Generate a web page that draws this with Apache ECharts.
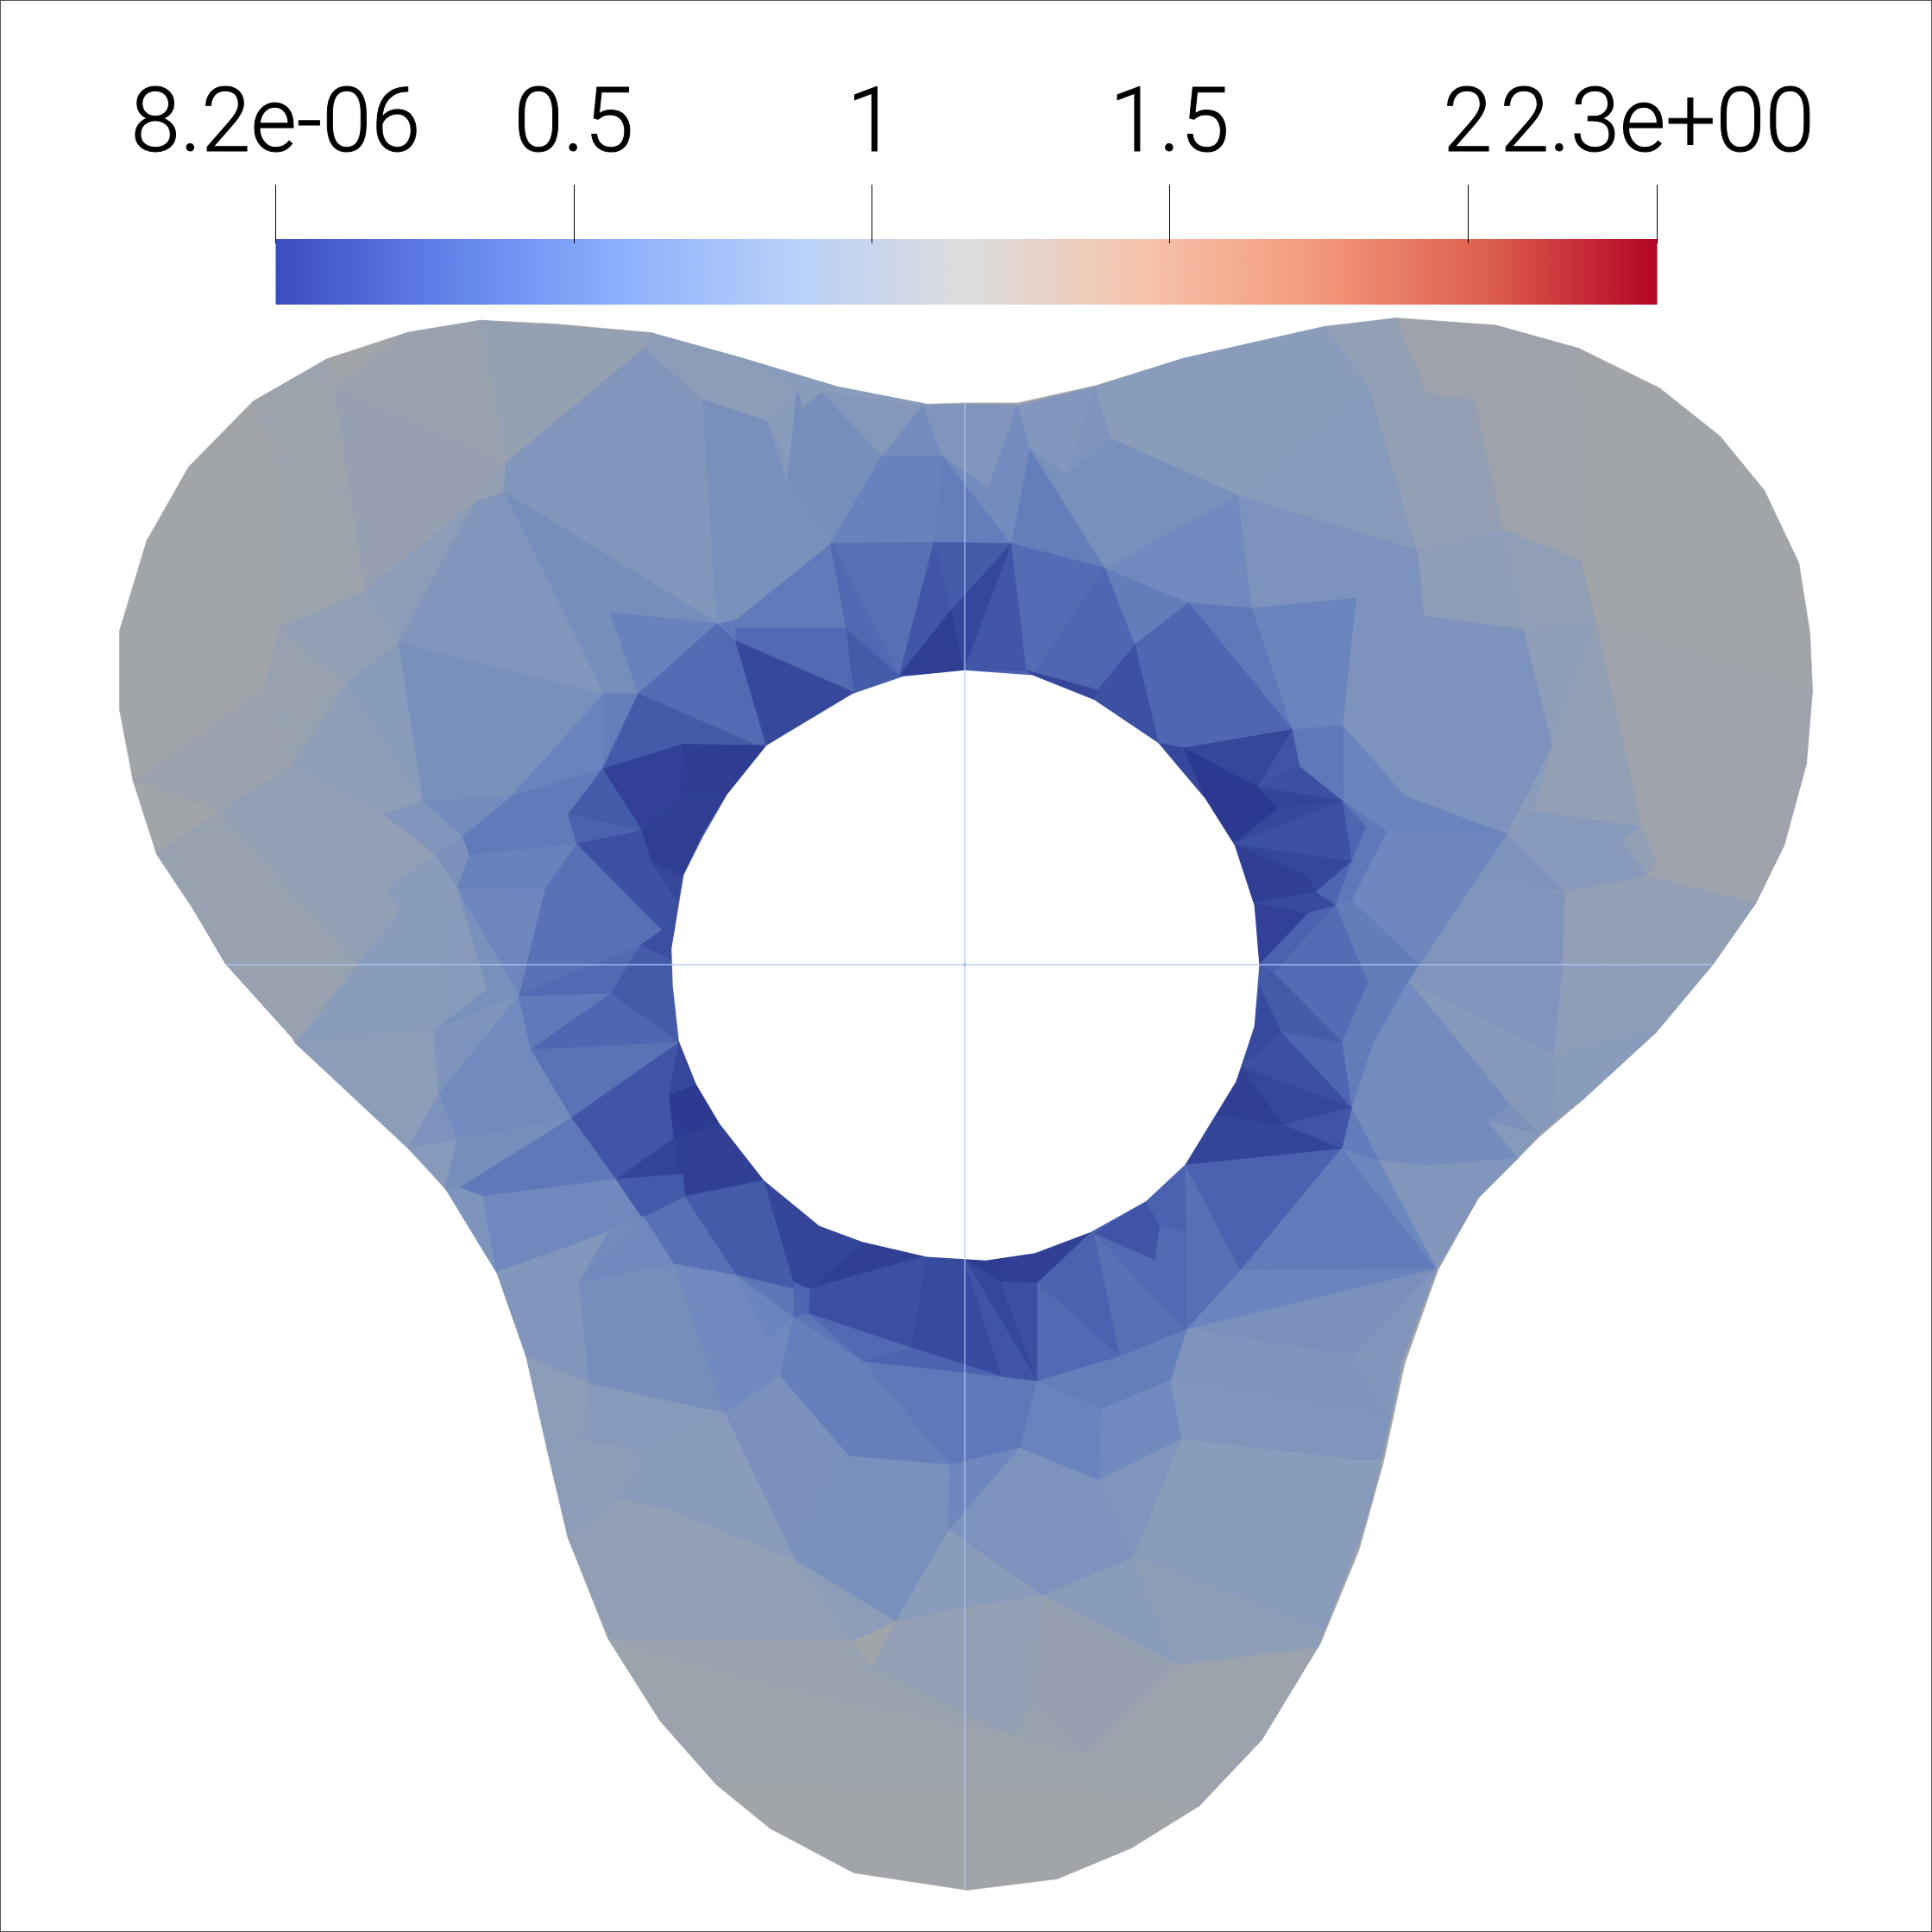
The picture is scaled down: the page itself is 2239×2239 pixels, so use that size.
<!DOCTYPE html>
<html>
<head>
<meta charset="utf-8">
<title>mesh</title>
<script src="https://cdn.jsdelivr.net/npm/echarts@6/dist/echarts.min.js"></script>
<style>
html, body { margin: 0; padding: 0; background: #fff; }
#main { width: 2239px; height: 2239px; }
</style>
</head>
<body>
<div id="main"></div>
<script>
// scale bar
const barMin = 0.0000082
const barMax = 2.318
const tickValues = [0.0000082, 0.5, 1, 1.5, 2, 2.318]
const tickLabels = ["8.2e-06", "0.5", "1", "1.5", "2", "2.3e+00"]
// cool to warm map, one colour every 1/8 of the range
const mapColors = [[59, 76, 192], [98, 130, 234], [141, 176, 254], [184, 208, 249], [221, 221, 221], [245, 196, 173], [244, 154, 123], [222, 96, 77], [180, 4, 38]]
const meshShade = 0.75

// mesh coordinates, y pointing down
const meshOutline = [752,328, 783,327, 826,327, 889,313, 960,291, 1075,265, 1137,259, 1214,264, 1282,283, 1347,315, 1396,354, 1432,398, 1460,457, 1469,514, 1471,560, 1466,620, 1448,686, 1425,733, 1390,783, 1344,838, 1284,893, 1250,922, 1200,972, 1167,1031, 1140,1107, 1123,1186, 1103,1258, 1072,1333, 1024,1412, 973,1466, 918,1500, 858,1525, 785,1534, 693,1520, 625,1484, 582,1449, 536,1397, 493,1329, 461,1248, 444,1176, 428,1103, 403,1032, 364,968, 332,932, 237,842, 183,782, 157,738, 127,693, 108,634, 97,576, 97,512, 119,439, 153,379, 205,326, 266,291, 330,270, 390,260, 452,263, 528,270, 600,290, 680,314]
const holeOutline = [783,544, 838,548, 888,568, 940,603, 978,648, 1002,686, 1018,735, 1022,783, 1018,833, 1003,878, 962,945, 930,975, 885,1000, 840,1017, 800,1023, 752,1020, 700,1008, 665,995, 620,958, 584,912, 565,880, 551,845, 546,800, 545,770, 555,710, 570,680, 590,645, 622,605, 692,563, 733,549]
const innerZone = [600,500, 783,440, 965,489, 1090,640, 1100,790, 1090,930, 963,1079, 842,1121, 700,1105, 522,988, 431,852, 421,808, 468,685, 518,563]
const axisH = [[183, 783], [1390, 783]]
const axisV = [[783, 327], [783, 1534]]

// each cell: value, then its corners. later cells lie over earlier ones
const meshCells = [
  [1.11, meshOutline],
  [1.07, [493,1329, 536,1397, 582,1449, 700,1450, 850,1450, 973,1466, 1024,1412, 1072,1333, 956,1351, 883,1423, 822,1408, 708,1353, 621,1364, 495,1330]],
  [0.3, innerZone],
  // upper left lobe
  [1.04, [330,270, 271,314, 296,480, 386,407, 411,375, 390,260]],
  [1.0, [271,314, 296,480, 386,407, 411,375]],
  [0.98, [390,260, 528,270, 523,282, 411,375]],
  [1.07, [228,383, 226,510, 296,480, 271,314, 266,291, 205,326]],
  [0.95, [226,510, 296,480, 323,521, 281,555]],
  [1.02, [226,510, 281,555, 237,621, 215,557]],
  [0.89, [296,480, 386,407, 323,521]],
  [0.8, [409,399, 386,407, 323,521, 490,563]],
  [0.95, [386,407, 411,375, 409,399]],
  [0.8, [411,375, 523,282, 570,324, 585,507, 409,399]],
  [0.7, [409,399, 585,507, 495,497, 518,563, 490,563]],
  [0.56, [495,497, 582,506, 518,563]],
  [0.72, [323,521, 490,563, 415,646, 343,650]],
  [0.86, [281,555, 323,521, 343,650, 237,621]],
  [0.91, [281,555, 343,650, 311,661, 237,621]],
  [1.06, [179,658, 237,621, 215,557, 108,634]],
  [0.95, [157,738, 179,658, 237,621, 311,661, 353,693, 314,721, 325,740, 290,783, 240,847, 237,842, 183,782]],
  [1.02, [127,693, 157,738, 183,782, 237,842, 240,847, 290,783, 179,658]],
  [0.53, [490,563, 518,563, 489,624]],
  [0.57, [490,563, 489,624, 415,646]],
  [0.5, [415,646, 489,624, 461,661, 468,685, 381,694, 375,679]],
  [0.66, [343,650, 415,646, 375,679]],
  [0.8, [311,661, 343,650, 375,679, 353,693]],
  [0.74, [353,693, 375,679, 381,694, 371,721]],
  [0.56, [381,694, 468,685, 442,722, 371,721]],
  [0.87, [353,693, 371,721, 314,721]],
  // left of the hole
  [0.38, [518,563, 582,506, 615,605]],
  [0.36, [582,506, 597,520, 615,605]],
  [0.36, [597,520, 622,605, 615,605]],
  [0.24, [518,563, 615,605, 554,604, 489,624]],
  [0.5, [582,506, 597,503, 687,510, 597,520]],
  [0.36, [597,510, 693,562, 597,520]],
  [0.11, [597,520, 693,562, 622,605]],
  [0.5, [597,503, 674,441, 687,510]],
  [0.36, [597,510, 687,510, 693,562]],
  [0.24, [687,510, 730,548, 693,562]],
  [0.06, [489,624, 554,604, 553,646, 521,674]],
  [0.02, [554,604, 622,605, 590,645, 553,646]],
  [0.04, [553,646, 590,645, 571,675, 521,674]],
  [0.24, [489,624, 521,674, 461,661]],
  [0.29, [461,661, 521,674, 468,685]],
  [0.16, [468,685, 521,674, 529,700]],
  [0.03, [521,674, 571,675, 554,711, 529,700]],
  [0.17, [468,685, 529,700, 550,733, 537,755]],
  [0.1, [529,700, 554,711, 550,733]],
  [0.41, [468,685, 537,755, 520,767, 442,722]],
  [0.15, [537,755, 550,733, 546,780, 520,767]],
  [0.43, [442,722, 520,767, 421,808]],
  [0.61, [371,721, 442,722, 421,808]],
  [0.72, [371,721, 421,808, 395,803]],
  [0.72, [352,836, 395,803, 421,808]],
  [0.84, [314,721, 371,721, 395,803, 352,836, 360,783]],
  [0.87, [290,783, 325,740, 314,721, 371,721, 360,783]],
  [0.87, [240,847, 290,783, 360,783, 352,836]],
  [0.89, [240,847, 352,836, 356,888, 331,932]],
  [0.77, [352,836, 421,808, 356,888]],
  [0.65, [421,808, 431,852, 356,888]],
  [0.49, [421,808, 496,806, 431,852]],
  [0.34, [496,806, 551,846, 431,852]],
  [0.36, [421,808, 520,767, 496,806]],
  [0.24, [520,767, 546,780, 551,846, 496,806]],
  [0.65, [356,888, 431,852, 464,907, 371,925]],
  [0.44, [431,852, 551,846, 464,907]],
  [0.75, [331,932, 356,888, 371,925]],
  [0.84, [331,932, 371,925, 361,964]],
  [0.7, [371,925, 464,907, 373,964, 361,964]],
  [0.48, [373,964, 464,907, 500,957, 392,971]],
  [0.77, [361,964, 373,964, 392,971, 403,1033]],
  [0.63, [392,971, 500,957, 493,1000, 403,1033]],
  [0.63, [500,957, 521,988, 493,1000]],
  [0.2, [464,907, 551,846, 543,889, 547,924, 500,957]],
  [0.1, [551,846, 565,880, 543,889]],
  [0.01, [543,889, 565,880, 584,912, 547,924]],
  [0.07, [500,957, 547,924, 554,953]],
  [0.05, [547,924, 584,912, 620,958, 554,971]],
  [0.23, [500,957, 554,953, 556,971, 521,988]],
  // below the hole
  [0.41, [522,988, 556,971, 598,1035]],
  [0.41, [522,988, 598,1035, 547,1026]],
  [0.24, [556,971, 620,958, 644,1040, 598,1035]],
  [0.24, [598,1035, 644,1040, 644,1046]],
  [0.09, [620,958, 665,995, 700,1008, 657,1046, 644,1040]],
  [0.04, [700,1008, 752,1019, 657,1046]],
  [0.16, [657,1046, 752,1019, 740,1094, 656,1066]],
  [0.36, [656,1066, 740,1094, 700,1105]],
  [0.34, [644,1046, 657,1046, 656,1066, 644,1069]],
  [0.46, [598,1035, 644,1046, 644,1069]],
  [0.46, [644,1069, 656,1066, 700,1105]],
  [0.12, [752,1019, 782,1021, 813,1117, 740,1094]],
  [0.3, [740,1094, 813,1117, 842,1121, 700,1105]],
  [0.1, [782,1021, 812,1040, 842,1121]],
  [0.16, [812,1040, 842,1041, 842,1121]],
  [0.19, [782,1021, 842,1121, 813,1117]],
  [0.02, [782,1021, 820,1019, 812,1040]],
  [0.05, [820,1019, 840,1017, 885,1000, 842,1041, 812,1040]],
  [0.8, [403,1032, 493,1001, 470,1041, 427,1101]],
  [0.8, [427,1101, 470,1041, 478,1123]],
  [0.65, [493,1001, 522,987, 470,1041]],
  [0.63, [470,1041, 522,987, 547,1026]],
  [0.7, [470,1041, 547,1026, 588,1147, 478,1123]],
  [0.64, [547,1026, 598,1035, 624,1087, 644,1069, 633,1117, 588,1147]],
  [0.58, [598,1035, 644,1069, 624,1087]],
  [0.54, [644,1069, 700,1105, 771,1189, 689,1182, 633,1117]],
  [0.48, [700,1105, 842,1121, 828,1175, 771,1189]],
  [0.73, [633,1117, 689,1182, 645,1266, 588,1147]],
  [0.72, [689,1182, 771,1189, 770,1242, 727,1316, 645,1266]],
  [0.62, [771,1189, 828,1175, 770,1242]],
  [0.75, [770,1242, 828,1175, 892,1201, 920,1264, 846,1295]],
  [0.87, [727,1316, 770,1242, 846,1295, 783,1305]],
  [0.95, [708,1353, 727,1316, 846,1295, 837,1380, 822,1408]],
  [0.89, [645,1266, 727,1316, 691,1332]],
  [0.95, [588,1147, 645,1266, 691,1332, 495,1330, 503,1217, 542,1225]],
  [0.87, [588,1147, 503,1217, 542,1225, 645,1266]],
  [0.87, [523,1178, 588,1147, 503,1217]],
  [0.84, [478,1123, 588,1147, 523,1178, 472,1169]],
  [0.89, [427,1101, 478,1123, 472,1169, 523,1178, 503,1217, 461,1248, 444,1176]],
  [0.93, [461,1248, 503,1217, 495,1330]],
  [1.02, [495,1330, 691,1332, 708,1353, 822,1408, 621,1364]],
  [1.02, [837,1380, 883,1423, 822,1408]],
  // lower right
  [0.29, [842,1041, 888,1001, 909,1101]],
  [0.41, [888,1001, 963,1079, 909,1101]],
  [0.36, [842,1041, 909,1101, 842,1121]],
  [0.36, [888,1001, 937,1022, 941,994, 962,980, 963,1079]],
  [0.19, [888,1001, 930,975, 941,994, 937,1022]],
  [0.29, [930,975, 962,945, 962,1000, 941,994]],
  [0.4, [962,945, 1007,1031, 963,1079]],
  [0.29, [962,945, 1089,932, 1007,1031]],
  [0.51, [1007,1031, 1089,932, 1166,1030]],
  [0.58, [963,1079, 1007,1031, 1166,1030]],
  [0.73, [963,1079, 1166,1030, 1098,1100]],
  [0.8, [1098,1100, 1166,1030, 1138,1105]],
  [0.77, [963,1079, 950,1120, 1129,1150, 1098,1100]],
  [0.53, [842,1121, 909,1101, 963,1079, 950,1120, 894,1144]],
  [0.57, [842,1121, 894,1144, 892,1201, 828,1175]],
  [0.64, [894,1144, 950,1120, 959,1168, 892,1201]],
  [0.78, [950,1120, 1129,1150, 1121,1185, 1100,1185, 959,1168]],
  [0.81, [1098,1100, 1138,1105, 1129,1150]],
  [0.79, [892,1201, 959,1168, 920,1264]],
  [0.87, [959,1168, 1100,1185, 1121,1185, 1114,1216, 1102,1255, 1074,1325, 920,1264]],
  [0.87, [846,1295, 920,1264, 956,1351]],
  [0.92, [920,1264, 1074,1325, 1070,1337, 956,1351]],
  [1.0, [846,1295, 956,1351, 883,1423, 837,1380]],
  // above the hole
  [0.89, [528,270, 600,290, 647,315, 623,342, 570,324, 523,282]],
  [0.87, [600,290, 680,314, 752,328, 749,329, 667,318, 647,315]],
  [0.87, [647,315, 667,318, 651,332]],
  [0.72, [570,324, 623,342, 674,441, 597,503, 582,506]],
  [0.87, [623,342, 647,315, 651,332, 639,390]],
  [0.82, [623,342, 639,390, 674,441]],
  [0.7, [651,332, 667,318, 716,370, 674,441, 639,390, 647,315]],
  [0.82, [667,318, 749,329, 716,370]],
  [0.67, [716,370, 749,329, 765,370]],
  [0.79, [749,329, 783,328, 826,329, 802,396, 765,370]],
  [0.66, [826,329, 836,364, 821,441, 802,396]],
  [0.56, [674,441, 716,370, 765,370, 758,440]],
  [0.53, [758,440, 765,370, 821,441]],
  [0.53, [836,364, 821,441, 897,461]],
  [0.66, [802,396, 765,370, 821,441]],
  [0.4, [674,441, 758,440, 730,548, 687,510]],
  [0.35, [674,441, 687,510, 730,548]],
  [0.24, [758,440, 821,441, 772,495]],
  [0.21, [758,440, 772,495, 730,548]],
  [0.1, [772,495, 821,441, 782,545]],
  [0.21, [821,441, 833,544, 782,545]],
  [0.03, [772,495, 782,545, 730,548]],
  [0.38, [821,441, 897,461, 833,544]],
  [0.38, [833,544, 897,461, 838,548]],
  [0.34, [897,461, 921,523, 891,560, 838,548]],
  [0.1, [833,544, 838,548, 888,568, 891,560]],
  [0.52, [897,461, 965,489, 921,523]],
  [0.34, [921,523, 965,489, 1049,593, 961,607, 941,603]],
  [0.17, [921,523, 891,560, 888,568, 940,603]],
  [0.1, [940,603, 961,607, 978,648]],
  [0.48, [965,489, 1016,493, 1049,592]],
  [0.58, [1016,493, 1101,485, 1090,589, 1049,592]],
  // upper right lobe
  [0.87, [888,314, 960,291, 1075,265, 1110,311, 1005,402, 902,356]],
  [0.81, [826,329, 888,314, 866,385, 836,364]],
  [0.77, [888,314, 902,356, 866,385]],
  [0.72, [836,364, 866,385, 902,356, 1005,402, 897,461]],
  [0.64, [897,461, 1005,402, 1016,493, 965,489]],
  [0.75, [1005,402, 1150,446, 1101,485, 1016,493]],
  [0.85, [1005,402, 1110,311, 1150,446]],
  [0.95, [1075,265, 1133,258, 1158,319, 1150,446, 1110,311]],
  [0.96, [1110,311, 1158,319, 1150,446]],
  [0.97, [1158,319, 1197,324, 1220,430, 1150,446]],
  [1.08, [1133,258, 1214,264, 1282,283, 1283,455, 1220,430, 1197,324, 1158,319]],
  [1.09, [1295,505, 1471,560, 1466,620, 1448,686, 1425,733, 1337,711, 1324,633]],
  [0.93, [1220,430, 1283,455, 1295,505, 1236,511]],
  [0.91, [1150,446, 1220,430, 1236,511, 1156,500]],
  [0.91, [1236,511, 1295,505, 1260,605]],
  [0.96, [1295,505, 1324,633, 1332,671, 1244,658, 1260,605]],
  [0.75, [1101,485, 1150,446, 1156,500, 1236,511, 1260,605, 1223,677, 1140,646, 1090,589]],
  [0.58, [1090,589, 1140,646, 1223,677, 1125,675, 1090,650]],
  [0.87, [1260,605, 1244,658, 1223,677]],
  [0.85, [1244,658, 1332,671, 1317,682, 1337,711, 1270,724, 1223,677]],
  [0.95, [1337,711, 1317,682, 1332,671, 1345,700]],
  // right of the hole
  [0.96, [1270,725, 1337,711, 1425,733, 1390,783, 1268,782]],
  [0.91, [1268,782, 1390,783, 1344,838, 1335,836, 1261,855]],
  [0.87, [1261,855, 1335,836, 1344,838, 1284,893, 1265,907]],
  [0.79, [1198,714, 1270,725, 1268,782, 1261,855, 1143,796, 1152,783]],
  [0.77, [1223,677, 1270,724, 1198,714]],
  [0.83, [1143,796, 1261,855, 1265,907, 1249,921, 1226,897]],
  [0.66, [1143,796, 1226,897, 1208,910, 1097,899, 1114,847]],
  [0.74, [1226,897, 1249,921, 1208,910]],
  [0.67, [1097,899, 1208,910, 1232,940, 1158,946, 1119,942]],
  [0.84, [1208,910, 1249,921, 1232,940]],
  [0.8, [1119,942, 1158,946, 1232,940, 1200,972, 1166,1030]],
  [0.6, [1089,932, 1119,942, 1166,1030]],
  [0.51, [1097,899, 1119,942, 1089,932]],
  [0.62, [1223,677, 1198,714, 1152,783, 1097,730, 1125,675]],
  [0.48, [1125,675, 1097,730, 1090,650]],
  [0.52, [1097,730, 1152,783, 1143,796, 1114,847, 1089,846, 1110,797, 1084,735]],
  [0.52, [1089,846, 1114,847, 1097,899]],
  [0.38, [1033,789, 1084,735, 1110,797, 1089,846]],
  [0.24, [1033,789, 1089,846, 1040,838, 1022,800]],
  [0.24, [1022,783, 1033,789, 1022,800]],
  [0.34, [1040,838, 1089,846, 1097,899]],
  [0.12, [1022,800, 1040,838, 1008,866, 1018,833]],
  [0.16, [1040,838, 1097,899, 1008,866]],
  [0.1, [1008,866, 1097,899, 1041,913]],
  [0.19, [1097,899, 1089,932, 1041,913]],
  [0.08, [1041,913, 1089,932, 962,945, 985,905]],
  [0.04, [1008,866, 1041,913, 985,905, 1003,878]],
  [0.1, [961,607, 1049,592, 1021,639, 978,648]],
  [0.0, [961,607, 1021,639, 1038,656, 1001,685, 978,648]],
  [0.19, [1049,592, 1055,622, 1021,639]],
  [0.16, [1055,622, 1090,650, 1021,639]],
  [0.48, [1049,592, 1090,589, 1090,650, 1055,622]],
  [0.08, [1021,639, 1090,650, 1038,656]],
  [0.11, [1038,656, 1090,650, 1001,685]],
  [0.17, [1090,650, 1097,699, 1001,685]],
  [0.33, [1090,650, 1109,671, 1097,699]],
  [0.48, [1090,650, 1125,675, 1097,730, 1097,699, 1109,671]],
  [0.48, [1097,699, 1097,730, 1084,735, 1084,733]],
  [0.1, [1001,685, 1097,699, 1068,724, 1061,711]],
  [0.04, [1001,685, 1061,711, 1068,724, 1017,733]],
  [0.33, [1097,699, 1084,733, 1068,724]],
  [0.12, [1017,733, 1068,724, 1084,735, 1062,741]],
  [0.06, [1017,733, 1062,741, 1022,783]],
  [0.29, [1062,741, 1084,735, 1033,789, 1022,783]]
]

function valueColor(v) {
    var t = (v - barMin) / (barMax - barMin) * (mapColors.length - 1)
    t = Math.max(0, Math.min(mapColors.length - 1.001, t))
    var i = Math.floor(t)
    var c = []
    for (var k = 0; k < 3; k++) {
        c.push(Math.round((mapColors[i][k] + (mapColors[i + 1][k] - mapColors[i][k]) * (t - i)) * meshShade))
    }
    return "rgb(" + c.join(",") + ")"
}

function toPixels(api, flat) {
    var pts = []
    for (var i = 0; i < flat.length; i += 2) {
        pts.push(api.coord([flat[i], flat[i + 1]]))
    }
    return pts
}

var barStops = mapColors.map(function (c, i) {
    return { offset: i / (mapColors.length - 1), color: "rgb(" + c.join(",") + ")" }
})

var myChart = echarts.init(document.getElementById("main"), null, { renderer: "canvas" })
var option = {
    animation: false,
    backgroundColor: "#fff",
    grid: [
        { left: 0, top: 0, width: 2239, height: 2239, show: true, backgroundColor: "transparent", borderColor: "#555", borderWidth: 2 },
        { left: 319.5, top: 277, width: 1601, height: 76 }
    ],
    xAxis: [
        { gridIndex: 0, type: "value", min: 0, max: 1568, show: false },
        {
            gridIndex: 1, type: "value", position: "top", offset: -5, min: barMin, max: barMax, z: 5,
            splitLine: { show: false },
            axisLine: { show: false, onZero: false },
            axisTick: { show: true, length: 68, customValues: tickValues, lineStyle: { color: "#000", width: 1 } },
            axisLabel: {
                show: true, customValues: tickValues, margin: 81, fontFamily: "Roboto", fontWeight: 300, fontSize: 103, color: "#000",
                textBorderColor: "#000", textBorderWidth: 1, hideOverlap: false,
                formatter: function (v) { return tickLabels[tickValues.indexOf(v)] }
            }
        }
    ],
    yAxis: [
        { gridIndex: 0, type: "value", min: 0, max: 1568, inverse: true, show: false },
        { gridIndex: 1, type: "value", min: 0, max: 1, show: false }
    ],
    series: [
        {
            type: "custom", xAxisIndex: 0, yAxisIndex: 0, clip: false, silent: true,
            data: meshCells.map(function (c, i) { return [i] }),
            renderItem: function (params, api) {
                var cell = meshCells[params.dataIndex]
                var col = valueColor(cell[0])
                return {
                    type: "polygon",
                    shape: { points: toPixels(api, cell[1]) },
                    style: { fill: col, stroke: col, lineWidth: 0.6 }
                }
            }
        },
        {
            // the hole in the middle of the mesh
            type: "custom", xAxisIndex: 0, yAxisIndex: 0, clip: false, silent: true, z: 3,
            data: [[0]],
            renderItem: function (params, api) {
                return { type: "polygon", shape: { points: toPixels(api, holeOutline) }, style: { fill: "#fff" } }
            }
        },
        {
            type: "line", xAxisIndex: 0, yAxisIndex: 0, data: axisH, symbol: "none", silent: true, z: 4,
            lineStyle: { color: "rgba(176,200,248,0.85)", width: 1.4 }
        },
        {
            type: "line", xAxisIndex: 0, yAxisIndex: 0, data: axisV, symbol: "none", silent: true, z: 4,
            lineStyle: { color: "rgba(176,200,248,0.85)", width: 1.4 }
        },
        {
            type: "scatter", xAxisIndex: 0, yAxisIndex: 0, data: [[783, 783]], symbolSize: 4, silent: true, z: 4,
            itemStyle: { color: "#9db8ee" }
        },
        {
            // colour bar
            type: "custom", xAxisIndex: 1, yAxisIndex: 1, silent: true, z: 3,
            data: [[barMin, 0, barMax, 1]],
            renderItem: function (params, api) {
                var p0 = api.coord([api.value(0), api.value(3)])
                var p1 = api.coord([api.value(2), api.value(1)])
                return {
                    type: "rect",
                    shape: { x: p0[0], y: p0[1], width: p1[0] - p0[0], height: p1[1] - p0[1] },
                    style: { fill: new echarts.graphic.LinearGradient(0, 0, 1, 0, barStops) }
                }
            }
        }
    ]
}
myChart.setOption(option)
</script>
</body>
</html>
